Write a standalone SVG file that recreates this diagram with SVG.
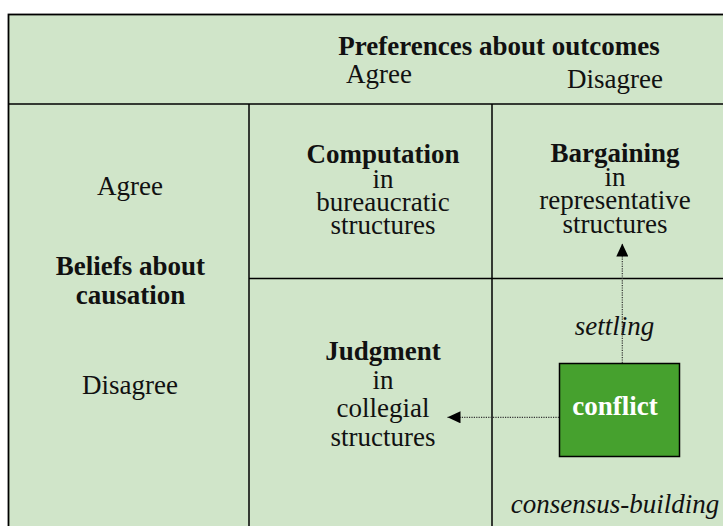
<svg xmlns="http://www.w3.org/2000/svg" width="723" height="526" viewBox="0 0 723 526">
<style>
.t{font-family:"Liberation Serif","Times New Roman",serif;font-size:27px;fill:#111;text-anchor:middle}
.b{font-weight:bold}
.i{font-style:italic}
.w{fill:#fff}
.grid{stroke:#000;stroke-width:1.5;fill:none}
.conn{stroke:#333;stroke-width:1.2;stroke-dasharray:1.2 1.2;fill:none}
</style>
<defs>
<marker id="ah" markerUnits="userSpaceOnUse" markerWidth="14" markerHeight="12" refX="13" refY="6" orient="auto">
<path d="M0,0 L13,6 L0,12 z" fill="#000"/>
</marker>
</defs>
<rect x="0" y="0" width="723" height="526" fill="#fff"/>
<g id="table">
<rect x="8.5" y="14.5" width="730" height="530" fill="#D0E5C9" stroke="#000" stroke-width="1.8"/>
<line class="grid" x1="8" y1="104" x2="740" y2="104"/>
<line class="grid" x1="249" y1="104" x2="249" y2="540"/>
<line class="grid" x1="492" y1="104" x2="492" y2="540"/>
<line class="grid" x1="249" y1="278.5" x2="740" y2="278.5"/>
</g>
<g id="header">
<text class="t b" x="499" y="55">Preferences about outcomes</text>
<text class="t" x="379" y="82.5">Agree</text>
<text class="t" x="615" y="87.5">Disagree</text>
</g>
<g id="beliefs">
<text class="t" x="130" y="195">Agree</text>
<text class="t b" x="130.5" y="275">Beliefs about</text>
<text class="t b" x="130.5" y="304">causation</text>
<text class="t" x="130" y="394">Disagree</text>
</g>
<g id="computation">
<text class="t b" x="383" y="163">Computation</text>
<text class="t" x="383" y="188">in</text>
<text class="t" x="383" y="211">bureaucratic</text>
<text class="t" x="383" y="234">structures</text>
</g>
<g id="bargaining">
<text class="t b" x="615" y="161.5">Bargaining</text>
<text class="t" x="615" y="186">in</text>
<text class="t" x="615" y="208.5">representative</text>
<text class="t" x="615" y="232.5">structures</text>
</g>
<g id="judgment">
<text class="t b" x="383" y="359.5">Judgment</text>
<text class="t" x="383" y="389">in</text>
<text class="t" x="383" y="416.5">collegial</text>
<text class="t" x="383" y="445.5">structures</text>
</g>
<g id="conflict">
<rect x="559.5" y="363.5" width="120" height="93" fill="#46A12E" stroke="#000" stroke-width="1.5"/>
<text class="t b w" x="615" y="415">conflict</text>
</g>
<g id="labels">
<text class="t i" x="614.5" y="335">settling</text>
<text class="t i" x="615" y="513">consensus-building</text>
</g>
<g id="connectors">
<line class="conn" x1="622.3" y1="363" x2="622.3" y2="243.5" marker-end="url(#ah)"/>
<line class="conn" x1="559" y1="417.3" x2="447.5" y2="417.3" marker-end="url(#ah)"/>
</g>
</svg>
